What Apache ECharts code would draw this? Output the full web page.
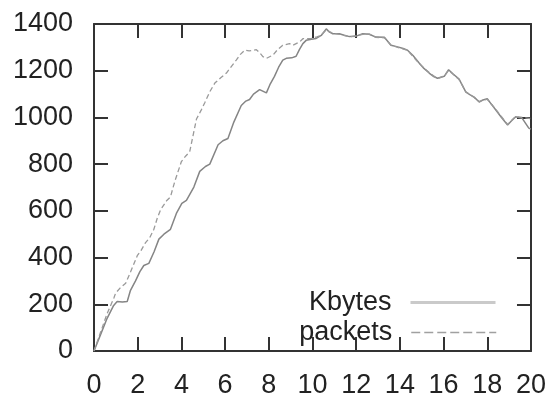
<!DOCTYPE html>
<html>
<head>
<meta charset="utf-8">
<script src="https://cdn.jsdelivr.net/npm/echarts@6/dist/echarts.min.js"></script>
<style>html,body{margin:0;padding:0;background:#fff}#c{width:549px;height:399px}</style>
</head>
<body>
<div id="c"></div>
<script>
var kbytesX = [0,0.3,0.6,0.9,1.06,1.3,1.52,1.67,1.9,2.1,2.28,2.51,2.75,2.97,3.2,3.5,3.77,4.02,4.23,4.57,4.84,5.1,5.3,5.68,5.9,6.13,6.4,6.74,6.95,7.12,7.3,7.58,7.89,8.05,8.26,8.45,8.64,8.8,9.05,9.25,9.4,9.56,9.71,9.95,10.17,10.4,10.63,10.78,10.93,11.23,11.45,11.69,12.0,12.3,12.6,12.9,13.29,13.45,13.59,13.9,14.15,14.35,14.6,14.89,15.1,15.34,15.55,15.72,16.03,16.23,16.45,16.71,17.02,17.2,17.4,17.63,17.8,18.0,18.2,18.4,18.65,18.93,19.1,19.3,19.6,19.9,20];
var kbytesY = [0,70,140,195,212,210,212,260,300,340,366,375,425,479,500,521,589,632,645,702,769,790,800,883,900,910,980,1051,1070,1077,1100,1119,1105,1140,1176,1215,1245,1253,1255,1262,1290,1316,1330,1335,1338,1351,1379,1365,1358,1358,1352,1346,1348,1358,1356,1344,1343,1325,1309,1302,1295,1288,1265,1232,1210,1190,1175,1168,1176,1204,1185,1164,1108,1098,1087,1066,1075,1080,1055,1031,1000,968,985,1003,996,954,950];
var packetsX = [0,0.3,0.6,0.91,0.99,1.2,1.45,1.67,1.98,2.15,2.36,2.55,2.74,2.9,3.05,3.32,3.5,3.7,4.0,4.2,4.38,4.55,4.69,4.9,5.07,5.3,5.53,5.8,6.06,6.3,6.51,6.7,6.9,7.1,7.43,7.6,7.73,7.89,8.19,8.4,8.64,8.95,9.1,9.41,9.56,9.94,10.2,10.4,10.63,10.93,11.23,11.69,12.0,12.3,12.6,12.9,13.29,13.59,13.9,14.35,14.89,15.34,15.72,16.03,16.23,16.71,17.02,17.4,17.63,18.0,18.4,18.93,19.3,19.6,20];
var packetsY = [0,80,160,227,248,270,290,338,408,430,464,485,521,570,605,643,660,727,811,835,853,930,993,1030,1063,1110,1147,1170,1190,1220,1245,1270,1288,1285,1290,1275,1260,1253,1267,1290,1309,1316,1309,1323,1337,1337,1345,1352,1375,1360,1356,1345,1350,1356,1357,1343,1341,1310,1300,1287,1230,1192,1166,1178,1202,1162,1110,1085,1068,1078,1033,970,1005,1000,995];
var seriesNames = ['Kbytes', 'packets'];

function pairs(xs, ys) { return xs.map(function (x, i) { return [x, ys[i]]; }); }

var font = 'Liberation Sans, Arial, sans-serif';
function axisLine() { return { show: true, onZero: false, lineStyle: { color: '#333', width: 2 } }; }
function tick() { return { show: true, inside: true, length: 14, lineStyle: { color: '#333', width: 2 } }; }
function xAx(pos, labels) {
  return { type: 'value', position: pos, min: 0, max: 20, interval: 2,
    axisLine: axisLine(), axisTick: tick(), splitLine: { show: false },
    axisLabel: { show: labels, margin: 21, fontSize: 27, color: '#222', fontFamily: font,
      formatter: function (v) { return String(v); } } };
}
function yAx(pos, labels) {
  return { type: 'value', position: pos, min: 0, max: 1400, interval: 200,
    axisLine: axisLine(), axisTick: tick(), splitLine: { show: false },
    axisLabel: { show: labels, margin: 21, fontSize: 27, color: '#222', fontFamily: font,
      formatter: function (v) { return String(v); } } };
}
function leg(name, bottom, ls) {
  return {
    show: true, left: 'auto', right: 52, top: 'auto', bottom: bottom, orient: 'horizontal', align: 'right',
    itemWidth: 85, itemHeight: 14, selectedMode: false, padding: 0,
    textStyle: { fontSize: 27, color: '#222', fontFamily: font, padding: [0, 14, 0, 0] },
    data: [{ name: name, lineStyle: ls, itemStyle: { opacity: 0 } }]
  };
}

var chart = echarts.init(document.getElementById('c'), null, { renderer: 'canvas' });
chart.setOption({
  animation: false,
  backgroundColor: '#fff',
  grid: { left: 94, right: 17, top: 24, bottom: 42, containLabel: false },
  xAxis: [xAx('bottom', true), xAx('top', false)],
  yAxis: [yAx('left', true), yAx('right', false)],
  legend: [
    leg(seriesNames[0], 83, { color: '#cacaca', width: 3, type: 'solid' }),
    leg(seriesNames[1], 53, { color: '#a0a0a0', width: 1.5, type: [9, 4] })
  ],
  series: [
    { name: seriesNames[0], type: 'line', xAxisIndex: 0, yAxisIndex: 0, data: pairs(kbytesX, kbytesY), showSymbol: false, symbol: 'none',
      lineStyle: { color: '#858585', width: 1.5 }, itemStyle: { color: '#858585' } },
    { name: seriesNames[1], type: 'line', xAxisIndex: 0, yAxisIndex: 0, data: pairs(packetsX, packetsY), showSymbol: false, symbol: 'none',
      lineStyle: { color: '#9a9a9a', width: 1.3, type: [5, 3] }, itemStyle: { color: '#9a9a9a' } }
  ]
});
</script>
</body>
</html>
